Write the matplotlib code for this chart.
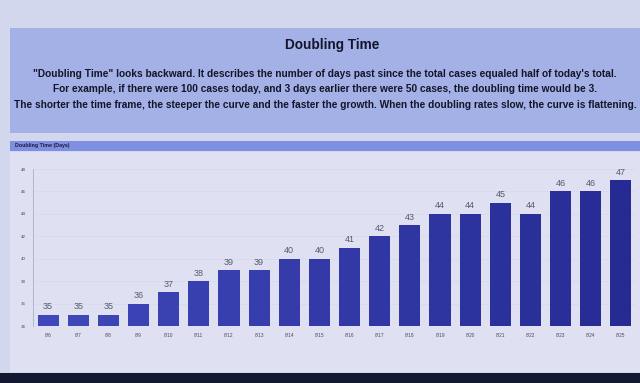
import matplotlib
matplotlib.use("Agg")

import matplotlib.pyplot as plt
from matplotlib.patches import Rectangle
from matplotlib.colors import LinearSegmentedColormap

# Daten
dates = ["8/6", "8/7", "8/8", "8/9", "8/10", "8/11", "8/12", "8/13", "8/14", "8/15",
         "8/16", "8/17", "8/18", "8/19", "8/20", "8/21", "8/22", "8/23", "8/24", "8/25"]
doubling_days = [35, 35, 35, 36, 37, 38, 39, 39, 40, 40,
                 41, 42, 43, 44, 44, 45, 44, 46, 46, 47]
y_ticks = [34, 36, 38, 40, 42, 44, 46, 48]

title = "Doubling Time"
text_lines = [
    "\"Doubling Time\" looks backward. It describes the number of days past since the total cases equaled half of today's total.",
    "For example, if there were 100 cases today, and 3 days earlier there were 50 cases, the doubling time would be 3.",
    "The shorter the time frame, the steeper the curve and the faster the growth. When the doubling rates slow, the curve is flattening.",
]

plt.rcParams["font.family"] = ["Liberation Sans", "DejaVu Sans"]


def main():
    W, H = 640, 383
    fig = plt.figure(figsize=(W / 100, H / 100), dpi=100)
    fig.patch.set_facecolor("#d3d7ee")

    def fx(x):
        return x / W

    def fy(y):
        return 1 - y / H

    # Kopfbereich
    fig.patches.append(Rectangle((fx(10), fy(133)), fx(630), (133 - 28) / H,
                                 transform=fig.transFigure, facecolor="#a3b1e6",
                                 edgecolor="none", zorder=0))
    fig.text(fx(332), fy(45), title, ha="center", va="center",
             fontsize=9.8, fontweight="bold", color="#15152a")
    for i, line in enumerate(text_lines):
        fig.text(fx(325), fy(74 + 15.5 * i), line, ha="center", va="center",
                 fontsize=7.3, fontweight="bold", color="#15152a")

    # Band ueber dem Diagramm
    fig.patches.append(Rectangle((fx(10), fy(151)), fx(630), 10 / H,
                                 transform=fig.transFigure, facecolor="#7f90e2",
                                 edgecolor="none", zorder=0))
    fig.text(fx(15), fy(146), "Doubling Time (Days)", ha="left", va="center",
             fontsize=3.8, fontweight="bold", color="#1a1a40")

    # Diagrammflaeche
    fig.patches.append(Rectangle((fx(10), fy(372)), fx(630), (372 - 152) / H,
                                 transform=fig.transFigure, facecolor="#dfe1f2",
                                 edgecolor="none", zorder=0))

    # unterer dunkler Rand
    fig.patches.append(Rectangle((0, 0), 1, 10 / H, transform=fig.transFigure,
                                 facecolor="#121830", edgecolor="none", zorder=0))

    ax = fig.add_axes([fx(33), fy(326), fx(636 - 33), (326 - 169) / H])
    ax.set_facecolor("none")
    ax.set_zorder(5)

    cmap = LinearSegmentedColormap.from_list("bars", ["#3f48ba", "#262b94"])
    n = len(doubling_days)
    colors = [cmap(i / (n - 1)) for i in range(n)]

    x = range(n)
    bars = ax.bar(x, [v - 34 for v in doubling_days], bottom=34, width=0.7,
                  color=colors, zorder=2)
    for b, v in zip(bars, doubling_days):
        ax.text(b.get_x() + b.get_width() / 2, v + 0.3, str(v),
                ha="center", va="bottom", fontsize=6.5, color="#555a70")

    ax.set_xlim(-0.5, n - 0.5)
    ax.set_ylim(34, 48)
    ax.set_yticks(y_ticks)
    ax.set_yticklabels([str(t) for t in y_ticks], fontsize=3.2, color="#44465a")
    ax.set_xticks(list(x))
    ax.set_xticklabels(dates, fontsize=3.4, color="#44465a")
    ax.tick_params(length=0, pad=5)
    ax.grid(axis="y", color="#d6d9ed", linewidth=0.5, zorder=0)

    for s in ["top", "right", "bottom"]:
        ax.spines[s].set_visible(False)
    ax.spines["left"].set_color("#a0a4c0")
    ax.spines["left"].set_linewidth(0.5)

    plt.savefig("out.png", dpi=100, facecolor=fig.get_facecolor())
    plt.close()


if __name__ == "__main__":
    main()
